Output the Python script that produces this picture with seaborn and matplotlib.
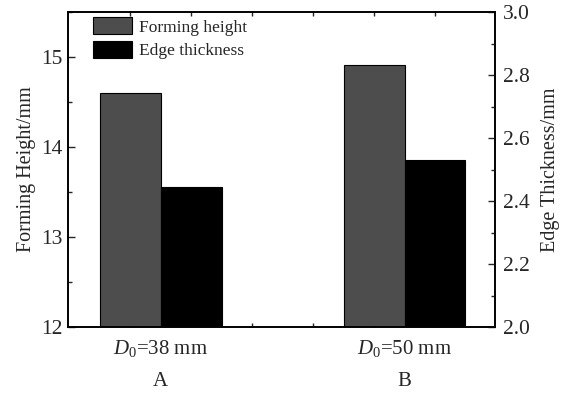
import numpy as np
import pandas as pd
import matplotlib
matplotlib.use("Agg")
import matplotlib.pyplot as plt
from matplotlib.patches import Patch
from matplotlib.ticker import MultipleLocator, FixedLocator
import seaborn as sns

categories = ["A", "B"]
cond_labels = [r"$D_{0}$=38 mm", r"$D_{0}$=50 mm"]
series = ["Forming height", "Edge thickness"]
forming_height = [14.60, 14.91]
edge_thickness = [2.443, 2.530]
colors = ["#4d4d4d", "#000000"]

sns.set_theme(style="white")
plt.rcParams["font.family"] = ["Liberation Serif", "DejaVu Serif"]
plt.rcParams["mathtext.fontset"] = "custom"
plt.rcParams["mathtext.rm"] = "Liberation Serif"
plt.rcParams["mathtext.it"] = "Liberation Serif:italic"

df_f = pd.DataFrame({"cat": categories, "val": forming_height, "series": series[0]})
df_e = pd.DataFrame({"cat": categories, "val": edge_thickness, "series": series[1]})

fig = plt.figure(figsize=(5.67, 3.94), dpi=100)
ax = fig.add_axes([68/567, 1-327/394, (495-68)/567, (327-12)/394])
ax2 = ax.twinx()

pal = dict(zip(series, colors))
sns.barplot(data=df_f, x="cat", y="val", hue="series", hue_order=series, order=categories,
            palette=pal, width=0.5, dodge=True, errorbar=None, edgecolor="black", linewidth=0.8,
            legend=False, ax=ax)
sns.barplot(data=df_e, x="cat", y="val", hue="series", hue_order=series, order=categories,
            palette=pal, width=0.5, dodge=True, errorbar=None, edgecolor="black", linewidth=0.8,
            legend=False, ax=ax2)

ax.set_ylim(12, 15.5)
ax2.set_ylim(2.0, 3.0)
ax.set_xlim(-0.38, 1.371)
ax2.set_xlim(-0.38, 1.371)

ax.yaxis.set_major_locator(MultipleLocator(1))
ax.yaxis.set_minor_locator(MultipleLocator(0.5))
ax2.set_yticks(np.round(np.arange(2.0, 3.01, 0.2), 1))
ax2.set_yticklabels([f"{v:.1f}" for v in np.arange(2.0, 3.01, 0.2)])
ax2.yaxis.set_minor_locator(MultipleLocator(0.1))

TS = 15.5
LS = 14.5
ax.set_xticks([0, 1])
ax.set_xticklabels([f"{c}\n{k}" for c, k in zip(cond_labels, categories)], fontsize=15, linespacing=1.95)
ax.xaxis.set_minor_locator(FixedLocator([-0.125, 0.125, 0.375, 0.625, 0.875, 1.125]))
ax.tick_params(axis="x", which="major", length=0, pad=8)
ax.tick_params(axis="x", which="minor", direction="in", length=3, width=1, top=True, bottom=True)
ax.tick_params(axis="y", which="major", direction="in", length=5, width=1, labelsize=TS, left=True, right=False, pad=4)
ax.tick_params(axis="y", which="minor", direction="in", length=3, width=1, left=True, right=False)
ax2.tick_params(axis="y", which="major", direction="in", length=5, width=1, labelsize=TS, right=True, pad=6)
ax2.tick_params(axis="y", which="minor", direction="in", length=3, width=1, right=True)
ax2.tick_params(axis="x", which="both", length=0, labelbottom=False)

ax.set_xlabel("")
ax2.set_xlabel("")
ax.set_ylabel("Forming Height/mm", fontsize=LS, labelpad=4)
ax2.set_ylabel("Edge Thickness/mm", fontsize=LS, labelpad=8)

for a in (ax, ax2):
    for s in a.spines.values():
        s.set_color("black")
        s.set_linewidth(1.2)

handles = [Patch(facecolor=c, edgecolor="black", linewidth=0.8) for c in colors]
leg = ax2.legend(handles, series, loc="upper left", bbox_to_anchor=(0.0585, 0.984), frameon=False,
                 fontsize=12.5, handlelength=2.25, handleheight=1.15, handletextpad=0.4,
                 labelspacing=0.3, borderpad=0, borderaxespad=0)

fig.savefig("out.png", dpi=100)
